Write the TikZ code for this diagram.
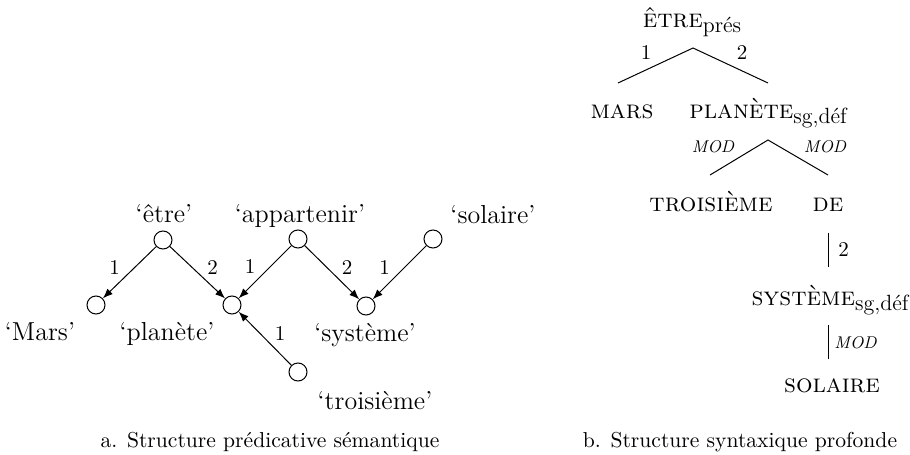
\documentclass[tikz,border=0pt]{standalone}
\usetikzlibrary{arrows.meta}
\newcommand\gsub[1]{\raisebox{-2.5pt}{\fontsize{11}{12}\selectfont #1}}
\begin{document}
\begin{tikzpicture}[x=0.5pt,y=-0.5pt,
  sem/.style={circle,draw,line width=0.5pt,minimum size=9pt,inner sep=0pt},
  arr/.style={line width=0.5pt,-{Latex[length=5pt,width=3.8pt]}},
  word/.style={anchor=base,inner sep=0pt,font=\fontsize{13}{15}\selectfont},
  num/.style={inner sep=0pt,font=\fontsize{10.5}{12}\selectfont},
  numl/.style={num,midway,xshift=-7.5pt,yshift=2.5pt},
  numr/.style={num,midway,xshift=7.5pt,yshift=2.5pt},
  lex/.style={anchor=base,inner sep=0pt,font=\fontsize{13}{15}\selectfont},
  rel/.style={inner sep=0pt,font=\fontsize{8.5}{10}\selectfont\itshape},
  branch/.style={line width=0.5pt},
  capt/.style={anchor=base,inner sep=0pt,font=\fontsize{10.8}{13}\selectfont}]
\useasboundingbox (0,0) rectangle (910,455);

% ---- a. semantic structure
\node[sem] (etre) at (163,240) {};
\node[sem] (app) at (298,239) {};
\node[sem] (sol) at (433,239) {};
\node[sem] (mars) at (96,305) {};
\node[sem] (plan) at (232,305) {};
\node[sem] (sys) at (366,306) {};
\node[sem] (troi) at (298,372) {};

\node[word] (tetre) at (164,222) {‘être’};
\node[word] (tapp) at (300,222) {‘appartenir’};
\node[word] (tsol) at (493,223) {‘solaire’};
\node[word] (tmars) at (40,340) {‘Mars’};
\node[word] (tplan) at (167,340) {‘planète’};
\node[word] (tsys) at (365,341) {‘système’};
\node[word] (ttroi) at (375,409) {‘troisième’};

\draw[arr] (etre) -- node[numl] {1} (mars);
\draw[arr] (etre) -- node[numr] {2} (plan);
\draw[arr] (app) -- node[numl] {1} (plan);
\draw[arr] (app) -- node[numr] {2} (sys);
\draw[arr] (sol) -- node[numl] {1} (sys);
\draw[arr] (troi) -- node[numr] {1} (plan);

\node[capt] (capa) at (270,447) {a. Structure prédicative sémantique};

% ---- b. deep syntactic structure
\node[lex] (E) at (692,27) {\textsc{être}\gsub{prés}};
\node[lex] (M) at (622,118) {\textsc{mars}};
\node[lex] (P) at (768,118) {\textsc{planète}\gsub{sg,déf}};
\node[lex] (T) at (711,211) {\textsc{troisième}};
\node[lex] (D) at (828,211) {\textsc{de}};
\node[lex] (S) at (830,305) {\textsc{système}\gsub{sg,déf}};
\node[lex] (L) at (832,392) {\textsc{solaire}};

\coordinate (e1) at (693,48);
\coordinate (m1) at (618,83);
\coordinate (p1) at (768,83);
\coordinate (p2) at (768,140);
\coordinate (t2) at (710,175);
\coordinate (d2) at (828,175);
\coordinate (d3) at (828,233);
\coordinate (s3) at (828,267);
\coordinate (s4) at (828,325);
\coordinate (l4) at (828,359);

\draw[branch] (m1) -- (e1) -- (p1);
\draw[branch] (t2) -- (p2) -- (d2);
\draw[branch] (d3) -- (s3);
\draw[branch] (s4) -- (l4);

\node[num] (r1) at (646,53) {1};
\node[num] (r2) at (742,53) {2};
\node[rel] (r3) at (713,147) {MOD};
\node[rel] (r4) at (825,147) {MOD};
\node[num,anchor=west] (r5) at (838,250) {2};
\node[rel,anchor=west] (r6) at (834,343) {MOD};

\node[capt] (capb) at (740,447) {b. Structure syntaxique profonde};
\end{tikzpicture}
\end{document}
